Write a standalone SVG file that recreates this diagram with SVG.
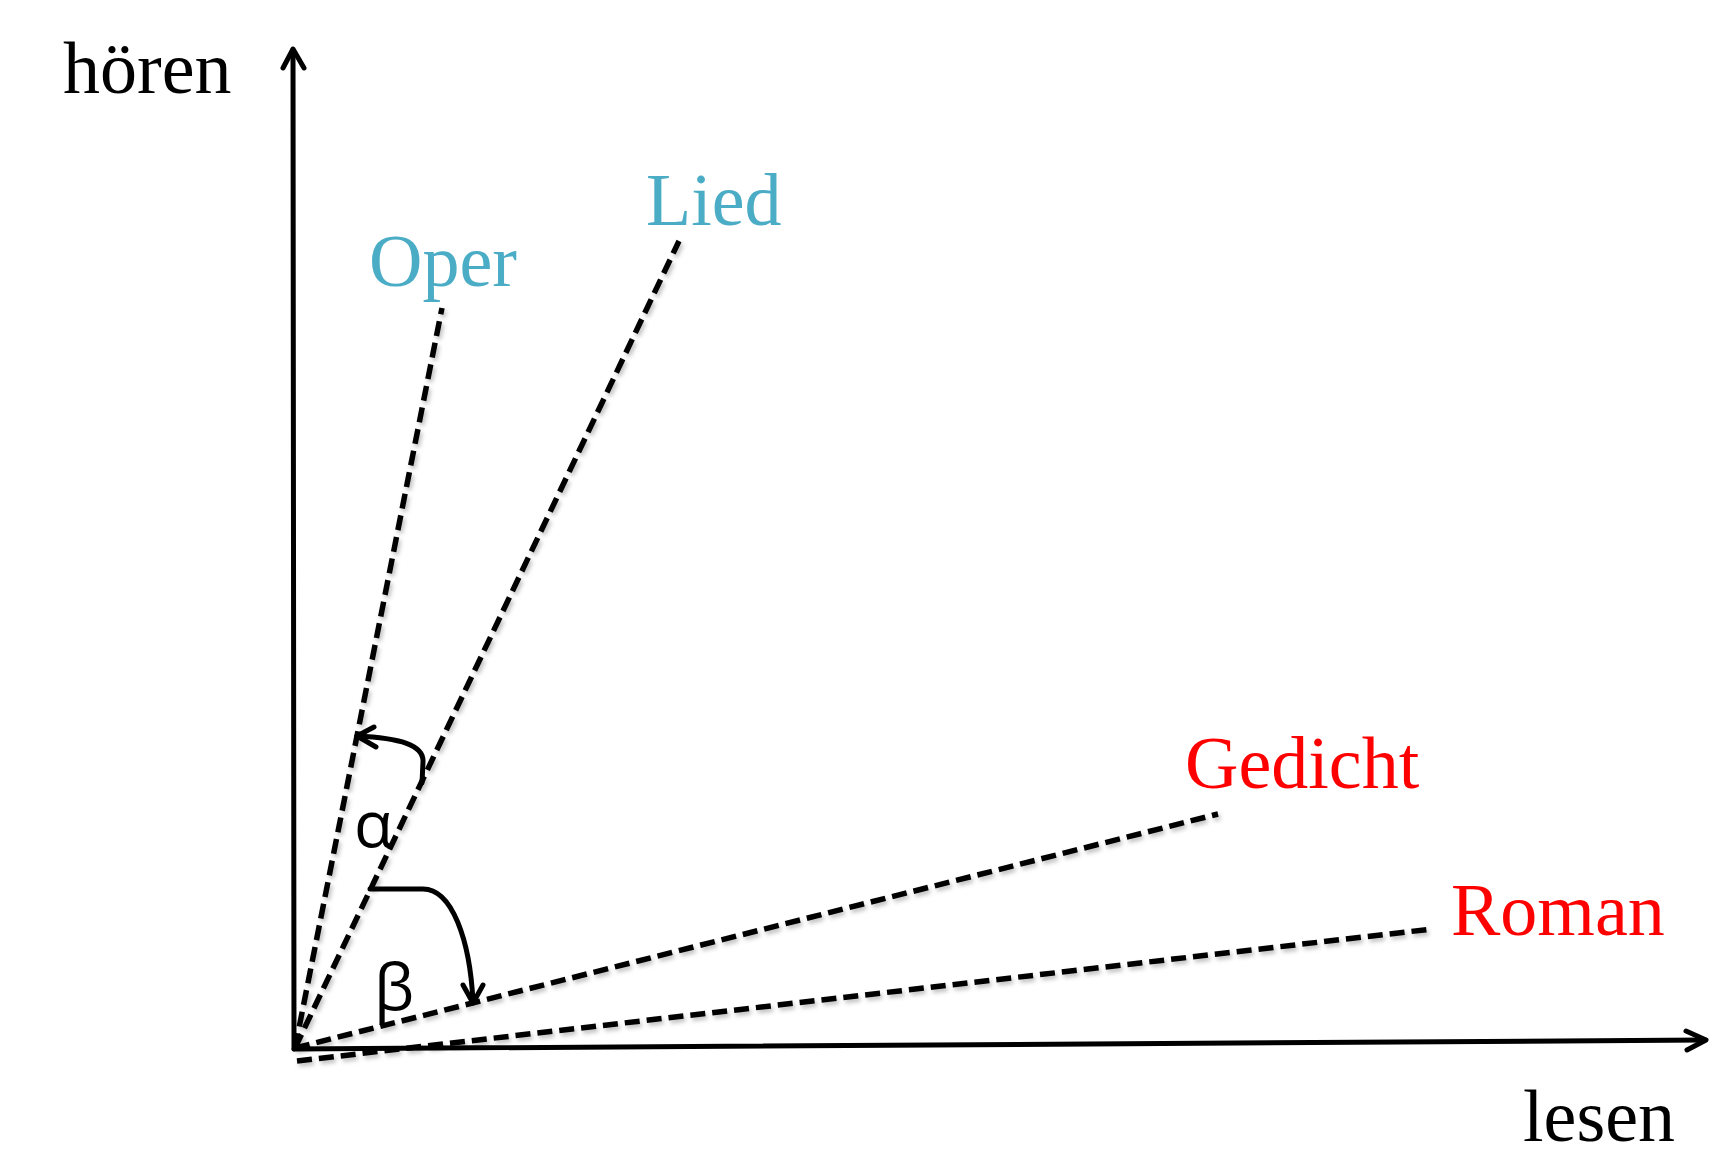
<svg xmlns="http://www.w3.org/2000/svg" width="1724" height="1154" viewBox="0 0 1724 1154">
<style>
.lbl{font-family:"Liberation Serif","Times New Roman",serif;font-size:74px}
.blue{fill:#4BACC6}
.red{fill:#FF0000}
.blk{fill:#000}
.greek{font-family:"Open Sans","DejaVu Sans",sans-serif;font-size:64px;fill:#000}
.axis{stroke:#000;stroke-width:5;fill:none;stroke-linecap:round;stroke-linejoin:round}
.dash{stroke:#000;stroke-width:5.5;fill:none;stroke-dasharray:15 7}
.arc{stroke:#000;stroke-width:5;fill:none;stroke-linecap:round;stroke-linejoin:round}
</style>
<defs>
<filter id="sh" x="-5%" y="-5%" width="110%" height="110%">
<feDropShadow dx="2" dy="3" stdDeviation="2" flood-color="#000" flood-opacity="0.25"/>
</filter>
</defs>
<rect width="1724" height="1154" fill="#fff"/>
<g id="connectors">
<g id="axes">
<line class="axis" x1="294" y1="1049" x2="293" y2="50"/>
<polyline class="axis" points="283,68 293,49 304,68"/>
<line class="axis" x1="294" y1="1049" x2="1705" y2="1040"/>
<polyline class="axis" points="1686,1031 1706,1040 1687,1050"/>
</g>
<g id="vectors" filter="url(#sh)">
<line class="dash" x1="295" y1="1048" x2="442" y2="308"/>
<line class="dash" x1="295" y1="1048" x2="679" y2="241"/>
<line class="dash" x1="295" y1="1048" x2="1218" y2="814"/>
<line class="dash" x1="297" y1="1061" x2="1432" y2="929"/>
</g>
<g id="angles">
<path class="arc" d="M422,783 L423,762 C424,745 400,738 357,736"/>
<polyline class="arc" points="374,727 357,736 376,747"/>
<path class="arc" d="M370,889 L423,889 C452,889 470,940 473,1002"/>
<polyline class="arc" points="463,985 473,1003 483,985"/>
</g>
</g>
<g id="hoeren"><text class="lbl blk" x="63" y="93">hören</text></g>
<g id="lesen"><text class="lbl blk" x="1523" y="1141">lesen</text></g>
<g id="oper"><text class="lbl blue" x="369" y="286">Oper</text></g>
<g id="lied"><text class="lbl blue" x="646" y="225">Lied</text></g>
<g id="gedicht"><text class="lbl red" x="1185" y="788">Gedicht</text></g>
<g id="roman"><text class="lbl red" x="1451" y="935">Roman</text></g>
<g id="alpha"><text class="greek" x="354" y="847">α</text></g>
<g id="beta"><text class="greek" x="374" y="1010">β</text></g>
</svg>
